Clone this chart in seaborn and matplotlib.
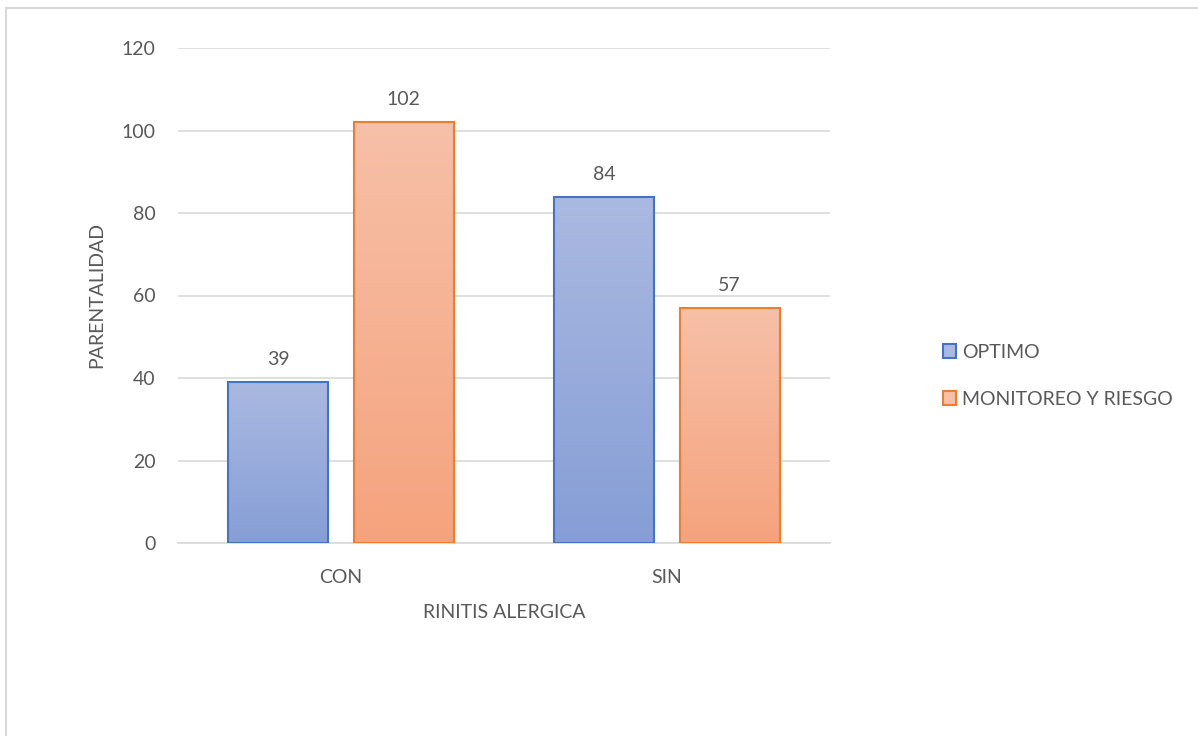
import numpy as np
import pandas as pd
import matplotlib
matplotlib.use("Agg")
import matplotlib.pyplot as plt
import seaborn as sns
from matplotlib.colors import LinearSegmentedColormap
from matplotlib.patches import Rectangle, Patch

categories = ["CON", "SIN"]
series_names = ["OPTIMO", "MONITOREO Y RIESGO"]
optimo = [39, 84]
monitoreo = [102, 57]
y_ticks = [0, 20, 40, 60, 80, 100, 120]

df = pd.DataFrame({
    "cat": categories * 2,
    "serie": [series_names[0]] * 2 + [series_names[1]] * 2,
    "val": optimo + monitoreo,
})

sns.set_theme(style="white")
plt.rcParams["font.family"] = ["Lato", "DejaVu Sans"]
txt = "#595959"
fs = 14

fig = plt.figure(figsize=(11.98, 7.36), dpi=100)
ax = fig.add_axes([178 / 1198, 1 - 543 / 736, (830 - 178) / 1198, (543 - 48) / 736])

edge_cols = {"OPTIMO": "#4472C4", "MONITOREO Y RIESGO": "#ED7D31"}
grad = {
    "OPTIMO": ("#AAB9E1", "#869ED6"),
    "MONITOREO Y RIESGO": ("#F7C0A8", "#F5A37D"),
}

sns.barplot(data=df, x="cat", y="val", hue="serie", order=categories,
            hue_order=series_names, width=0.767, gap=0.2,
            palette=edge_cols, ax=ax, legend=False, saturation=1)

ax.set_ylim(0, 120)
ax.set_xlim(-0.5, 1.5)
ax.set_yticks(y_ticks)
ax.grid(axis="y", color="#D9D9D9", linewidth=1.2)
ax.set_axisbelow(True)
for s in ["top", "right", "left"]:
    ax.spines[s].set_visible(False)
ax.spines["bottom"].set_color("#D9D9D9")
ax.spines["bottom"].set_linewidth(1.2)
ax.tick_params(axis="both", length=0, colors=txt, labelsize=fs)
ax.tick_params(axis="y", pad=16)
ax.tick_params(axis="x", pad=19)

# gradient fills
for container, name in zip(ax.containers, series_names):
    cmap = LinearSegmentedColormap.from_list(name, [grad[name][1], grad[name][0]])
    for bar in container:
        x0 = bar.get_x()
        w, h = bar.get_width(), bar.get_height()
        bar.set_facecolor("none")
        bar.set_edgecolor(edge_cols[name])
        bar.set_linewidth(1.5)
        bar.set_zorder(3)
        g = np.linspace(0, 1, 256).reshape(-1, 1)
        im = ax.imshow(g, cmap=cmap, origin="lower", aspect="auto",
                       extent=[x0, x0 + w, 0, h], zorder=2)
        im.set_clip_path(bar)
    ax.bar_label(container, padding=10, color=txt, fontsize=fs)

ax.set_xlim(-0.5, 1.5)
ax.set_ylim(0, 120)

ax.set_xlabel("RINITIS ALERGICA", color=txt, fontsize=fs, labelpad=13)
ax.set_ylabel("PARENTALIDAD", color=txt, fontsize=fs, labelpad=12)

handles = [Patch(facecolor=grad[n][0], edgecolor=edge_cols[n], linewidth=1.5, label=n)
           for n in series_names]
leg = fig.legend(handles=handles, loc="center left",
                 bbox_to_anchor=(925 / 1198, 1 - 376 / 736), frameon=False,
                 fontsize=fs, labelspacing=1.55, handlelength=0.7,
                 handleheight=0.7, handletextpad=0.3)
for t in leg.get_texts():
    t.set_color(txt)

# outer chart border (top and left visible)
fig.patches.append(Rectangle((6 / 1198, -0.1), 1.2, (1 - 8 / 736) + 0.1,
                             transform=fig.transFigure, fill=False,
                             edgecolor="#D9D9D9", linewidth=1.5))

fig.savefig("out.png", dpi=100)
